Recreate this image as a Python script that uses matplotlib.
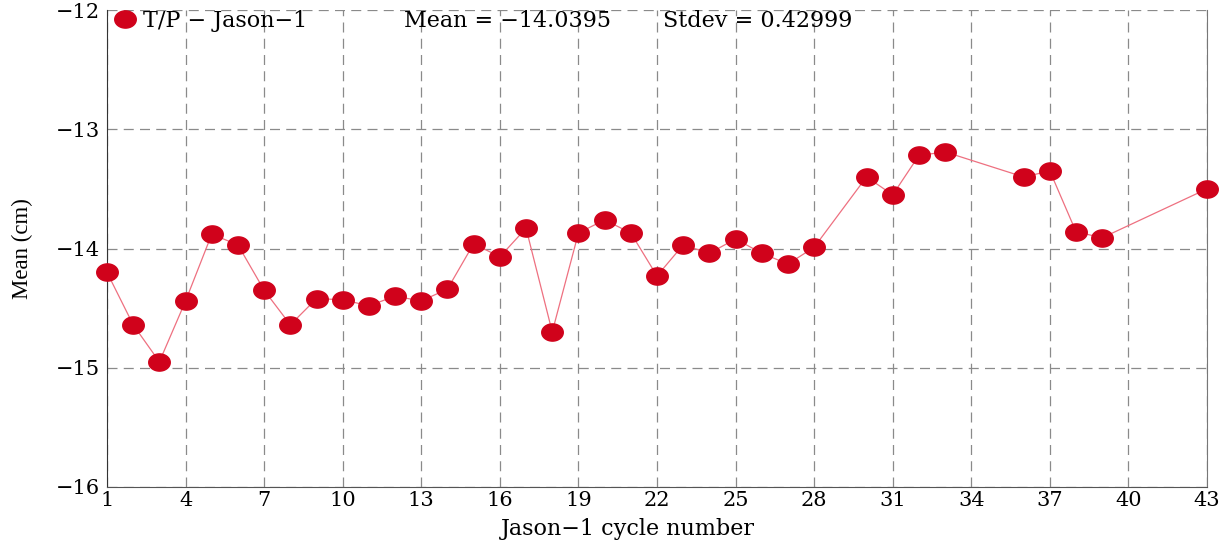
import matplotlib
matplotlib.use("Agg")
import matplotlib.pyplot as plt
import numpy as np
from matplotlib.path import Path

cycles = [1, 2, 3, 4, 5, 6, 7, 8, 9, 10, 11, 12, 13, 14, 15, 16, 17, 18, 19, 20,
          21, 22, 23, 24, 25, 26, 27, 28, 30, 31, 32, 33, 36, 37, 38, 39, 43]
means = [-14.20, -14.64, -14.95, -14.44, -13.88, -13.97, -14.35, -14.64, -14.42, -14.43,
         -14.48, -14.40, -14.44, -14.34, -13.96, -14.07, -13.83, -14.70, -13.87, -13.76,
         -13.87, -14.23, -13.97, -14.04, -13.92, -14.04, -14.13, -13.99, -13.40, -13.55,
         -13.22, -13.19, -13.40, -13.35, -13.86, -13.91, -13.50]
xticks = [1, 4, 7, 10, 13, 16, 19, 22, 25, 28, 31, 34, 37, 40, 43]
yticks = [-16, -15, -14, -13, -12]
series_label = "T/P \u2212 Jason\u22121"
mean_text = "Mean = \u221214.0395"
std_text = "Stdev = 0.42999"

plt.rcParams['font.family'] = ['DejaVu Serif']
FS = 15
FS_TXT = 16

W, H = 1231, 544
L, R, T, B = 107, 1207, 10, 487
t = np.linspace(0, 2 * np.pi, 60)
ell = Path(np.column_stack([np.cos(t), 0.8 * np.sin(t)]), closed=True)

fig = plt.figure(figsize=(W / 100, H / 100), dpi=100)
ax = fig.add_axes([L / W, 1 - B / H, (R - L) / W, (B - T) / H])

red = '#d0021b'
ax.plot(cycles, means, '-', color='#ee7080', lw=0.9, zorder=2)
ax.plot(cycles, means, linestyle='none', marker=ell, markersize=15.5,
        color=red, markeredgecolor=red, zorder=3, clip_on=False, label=series_label)

ax.set_xlim(1, 43)
ax.set_ylim(-16, -12)
ax.set_xticks(xticks)
ax.set_yticks(yticks)
ax.tick_params(length=0, labelsize=FS)
ax.tick_params(axis='y', pad=5)
ax.tick_params(axis='x', pad=3)
ax.grid(True, color='#8a8a8a', linestyle=(0, (8, 5)), lw=0.9)
ax.spines['top'].set_visible(False)
ax.spines['right'].set_color('#777777')
ax.spines['left'].set_color('#333333')
ax.spines['bottom'].set_color('#555555')
ax.set_xlabel("Jason\u22121 cycle number", fontsize=FS_TXT)
ax.xaxis.set_label_coords((628 - L) / (R - L), -(529 - B) / (B - T))
ax.xaxis.label.set_va('center')
ax.set_ylabel("Mean (cm)", fontsize=16.5, family=['Liberation Serif', 'DejaVu Serif'])
ax.yaxis.set_label_coords(-(L - 22) / (R - L), (B - 249) / (B - T))
ax.yaxis.label.set_va('center')

yc = (B - 21) / (B - T)
leg = ax.legend(loc='center left', frameon=False, handletextpad=0.1,
                borderaxespad=0.0, borderpad=0.0, handlelength=1.4,
                bbox_to_anchor=(2.5 / (R - L), yc), fontsize=FS_TXT)
ax.text((404 - L) / (R - L), yc, mean_text, transform=ax.transAxes,
        ha='left', va='center', fontsize=FS_TXT)
ax.text((663 - L) / (R - L), yc, std_text, transform=ax.transAxes,
        ha='left', va='center', fontsize=FS_TXT)

fig.savefig("out.png", dpi=100)
